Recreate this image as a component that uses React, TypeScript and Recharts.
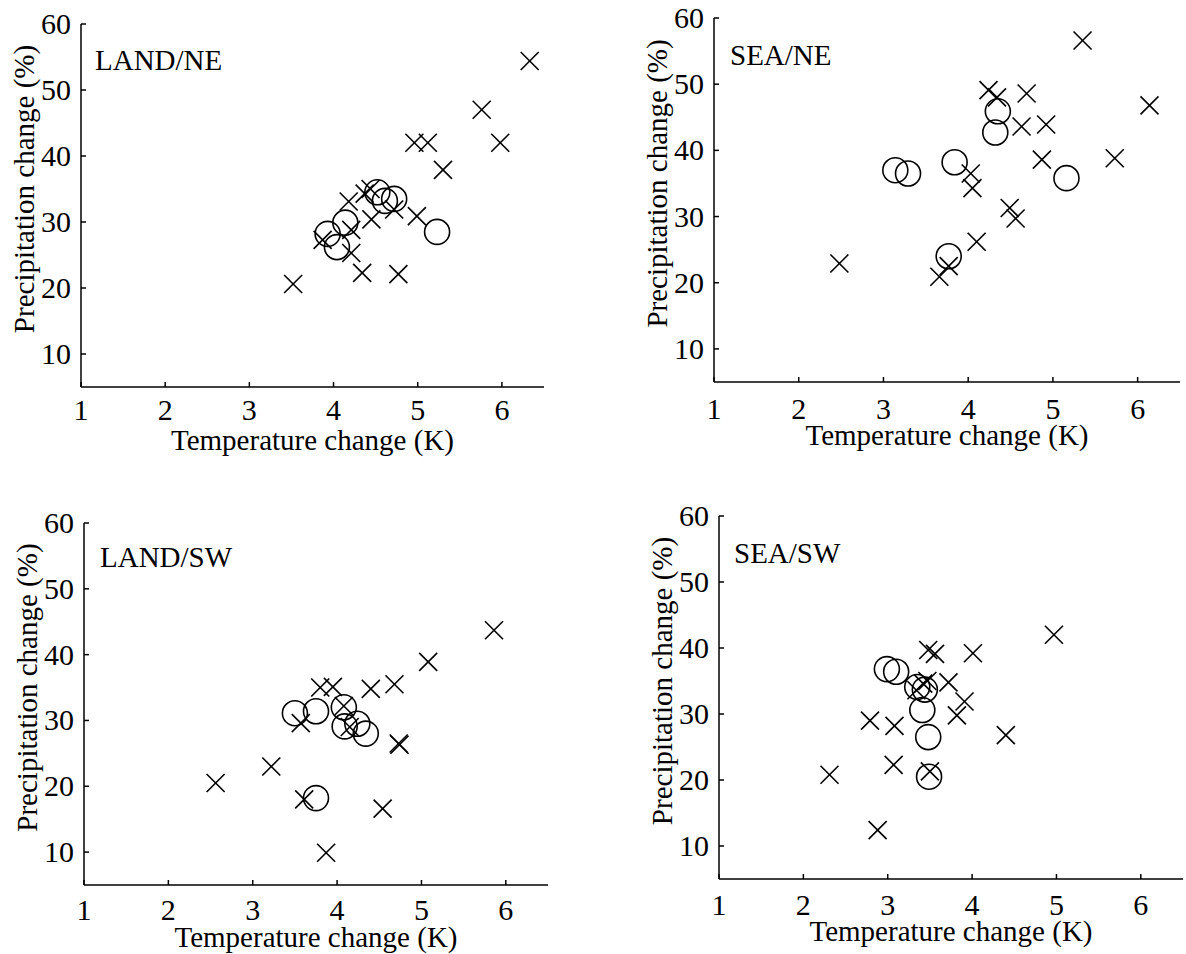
import React from 'react'
import { ScatterChart, Scatter, XAxis, YAxis } from 'recharts'

type Pt = { t: number; p: number }

const xTicks = [1, 2, 3, 4, 5, 6]
const yTicks = [10, 20, 30, 40, 50, 60]
const xTitle = 'Temperature change (K)'
const yTitle = 'Precipitation change (%)'

const landNeCross: Pt[] = [
  { t: 6.33, p: 54.4 }, { t: 5.76, p: 47.0 }, { t: 5.98, p: 42.0 }, { t: 4.96, p: 42.0 },
  { t: 5.12, p: 42.0 }, { t: 5.3, p: 37.9 }, { t: 4.99, p: 30.9 }, { t: 4.72, p: 31.9 },
  { t: 4.45, p: 30.4 }, { t: 4.37, p: 34.3 }, { t: 4.44, p: 35.0 }, { t: 4.18, p: 33.1 },
  { t: 4.21, p: 28.8 }, { t: 3.87, p: 27.3 }, { t: 4.21, p: 25.3 }, { t: 4.34, p: 22.3 },
  { t: 4.77, p: 22.1 }, { t: 3.52, p: 20.6 },
]
const landNeCircle: Pt[] = [
  { t: 4.52, p: 34.5 }, { t: 4.61, p: 33.2 }, { t: 4.72, p: 33.5 }, { t: 4.14, p: 29.9 },
  { t: 3.93, p: 28.2 }, { t: 4.04, p: 26.2 }, { t: 5.23, p: 28.5 },
]

const seaNeCross: Pt[] = [
  { t: 5.35, p: 56.6 }, { t: 6.14, p: 46.8 }, { t: 5.73, p: 38.8 }, { t: 4.69, p: 48.6 },
  { t: 4.63, p: 43.6 }, { t: 4.92, p: 43.9 }, { t: 4.87, p: 38.6 }, { t: 4.24, p: 49.1 },
  { t: 4.34, p: 48.0 }, { t: 4.03, p: 36.5 }, { t: 4.05, p: 34.3 }, { t: 4.49, p: 31.3 },
  { t: 4.56, p: 29.7 }, { t: 4.1, p: 26.2 }, { t: 2.48, p: 22.9 }, { t: 3.66, p: 20.9 },
  { t: 3.77, p: 22.5 },
]
const seaNeCircle: Pt[] = [
  { t: 3.14, p: 37.0 }, { t: 3.29, p: 36.5 }, { t: 3.84, p: 38.2 }, { t: 4.32, p: 42.7 },
  { t: 4.35, p: 45.9 }, { t: 5.16, p: 35.8 }, { t: 3.77, p: 24.0 },
]

const landSwCross: Pt[] = [
  { t: 5.86, p: 43.7 }, { t: 5.08, p: 38.9 }, { t: 4.68, p: 35.5 }, { t: 4.4, p: 34.8 },
  { t: 3.8, p: 35.0 }, { t: 3.95, p: 35.1 }, { t: 3.57, p: 29.6 }, { t: 4.73, p: 26.5 },
  { t: 4.74, p: 26.3 }, { t: 3.22, p: 23.0 }, { t: 2.56, p: 20.5 }, { t: 3.61, p: 18.0 },
  { t: 4.54, p: 16.6 }, { t: 3.87, p: 9.9 }, { t: 4.15, p: 29.0 }, { t: 4.08, p: 32.2 },
]
const landSwCircle: Pt[] = [
  { t: 3.5, p: 31.1 }, { t: 3.75, p: 31.4 }, { t: 4.08, p: 32.0 }, { t: 4.09, p: 29.1 },
  { t: 4.24, p: 29.5 }, { t: 4.34, p: 28.0 }, { t: 3.75, p: 18.2 },
]

const seaSwCross: Pt[] = [
  { t: 2.31, p: 20.8 }, { t: 2.88, p: 12.4 }, { t: 2.79, p: 29.0 }, { t: 3.08, p: 28.2 },
  { t: 3.07, p: 22.3 }, { t: 3.48, p: 39.7 }, { t: 3.56, p: 39.1 }, { t: 4.01, p: 39.2 },
  { t: 4.97, p: 42.0 }, { t: 4.4, p: 26.8 }, { t: 3.82, p: 29.8 }, { t: 3.91, p: 31.9 },
  { t: 3.72, p: 34.8 }, { t: 3.42, p: 34.6 }, { t: 3.34, p: 33.6 }, { t: 3.47, p: 35.0 },
  { t: 3.5, p: 21.3 },
]
const seaSwCircle: Pt[] = [
  { t: 2.99, p: 36.8 }, { t: 3.1, p: 36.4 }, { t: 3.35, p: 34.1 }, { t: 3.44, p: 33.7 },
  { t: 3.41, p: 30.6 }, { t: 3.48, p: 26.5 }, { t: 3.49, p: 20.5 },
]

const FONT = '"Liberation Serif", "Times New Roman", serif'

// plot-area boxes
const panels = [
  { name: 'LAND/NE', cross: landNeCross, circle: landNeCircle, left: 81, top: 24, w: 463, h: 363, xGap: 12, xBase: 63, lx: 95, ly: 70 },
  { name: 'SEA/NE', cross: seaNeCross, circle: seaNeCircle, left: 714, top: 18, w: 466, h: 364, xGap: 16, xBase: 63, lx: 730, ly: 65 },
  { name: 'LAND/SW', cross: landSwCross, circle: landSwCircle, left: 84, top: 523, w: 464, h: 362, xGap: 14, xBase: 62, lx: 100, ly: 567 },
  { name: 'SEA/SW', cross: seaSwCross, circle: seaSwCircle, left: 719, top: 516, w: 464, h: 363, xGap: 15, xBase: 62, lx: 734, ly: 563 },
]

const Cross = (props: any) => {
  const { cx, cy } = props
  const s = 9
  return (
    <g stroke="#000" strokeWidth={1.6}>
      <line x1={cx - s} y1={cy - s} x2={cx + s} y2={cy + s} />
      <line x1={cx - s} y1={cy + s} x2={cx + s} y2={cy - s} />
    </g>
  )
}

const Ring = (props: any) => (
  <circle cx={props.cx} cy={props.cy} r={12.5} fill="none" stroke="#000" strokeWidth={1.6} />
)

const XTick = (props: any) => (
  <text x={props.x} y={props.y} dy={21} textAnchor="middle" fontSize={30} fontFamily={FONT} fill="#000">
    {props.payload.value}
  </text>
)

const YTick = (props: any) => (
  <text x={props.x} y={props.y} dy={10} textAnchor="end" fontSize={30} fontFamily={FONT} fill="#000">
    {props.payload.value}
  </text>
)

const Y_W = 81
const M_TOP = 18
const X_H = 80
const M_RIGHT = 6

function Panel({ cfg }: { cfg: typeof panels[number] }) {
  const width = Y_W + cfg.w + M_RIGHT
  const height = M_TOP + cfg.h + X_H

  const xLabel = () => (
    <text x={Y_W + cfg.w / 2} y={M_TOP + cfg.h + cfg.xBase} textAnchor="middle"
      fontSize={29} fontFamily={FONT} fill="#000">{xTitle}</text>
  )
  const yLabel = () => {
    const cx = Y_W - 47
    const cy = M_TOP + cfg.h * (25 / 55)
    return (
      <text x={cx} y={cy} transform={`rotate(-90, ${cx}, ${cy})`} textAnchor="middle"
        fontSize={29} fontFamily={FONT} fill="#000">{yTitle}</text>
    )
  }

  return (
    <>
      <div style={{ position: 'absolute', left: cfg.left - Y_W, top: cfg.top - M_TOP }}>
        <ScatterChart width={width} height={height} margin={{ top: M_TOP, right: M_RIGHT, bottom: 0, left: 0 }}>
          <XAxis type="number" dataKey="t" domain={[1, 6.5]} ticks={xTicks} interval={0}
            height={X_H} tickSize={-5} tickMargin={cfg.xGap + 5} stroke="#000" strokeWidth={1.5}
            tick={<XTick />} allowDataOverflow label={{ content: xLabel }} />
          <YAxis type="number" dataKey="p" domain={[5, 60]} ticks={yTicks} interval={0}
            width={Y_W} tickSize={-5} tickMargin={15} stroke="#000" strokeWidth={1.5}
            tick={<YTick />} allowDataOverflow label={{ content: yLabel }} />
          <Scatter data={cfg.cross} shape={Cross} isAnimationActive={false} />
          <Scatter data={cfg.circle} shape={Ring} isAnimationActive={false} />
        </ScatterChart>
      </div>
      <div style={{ position: 'absolute', left: cfg.lx, top: cfg.ly - 24.3, fontSize: 29, lineHeight: '29px', fontFamily: FONT, whiteSpace: 'nowrap', color: '#000' }}>
        {cfg.name}
      </div>
    </>
  )
}

export default function App() {
  return (
    <div style={{ position: 'absolute', left: 0, top: 0, width: 1186, height: 954, background: '#fff', overflow: 'hidden', fontFamily: FONT }}>
      {panels.map((cfg) => <Panel key={cfg.name} cfg={cfg} />)}
    </div>
  )
}
